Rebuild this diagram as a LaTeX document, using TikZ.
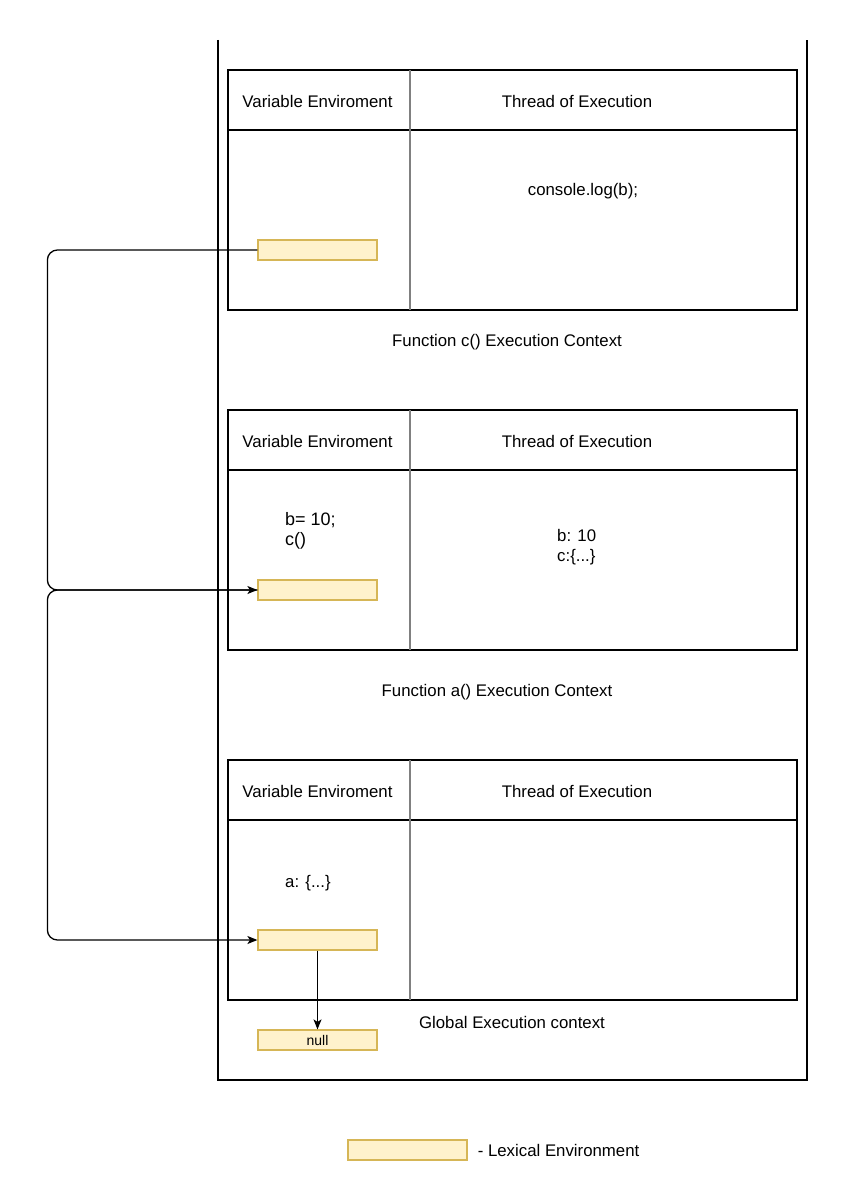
\documentclass[tikz,border=0pt]{standalone}
\usepackage{fontspec}
\setmainfont{Liberation Sans}
\usetikzlibrary{positioning,arrows.meta}

\definecolor{lexfill}{HTML}{FFF2CC}
\definecolor{lexdraw}{HTML}{D6B656}
\tikzset{
  frame/.style={black,line width=1.3pt},
  divider/.style={gray,line width=1.5pt},
  lexenv/.style={draw=lexdraw,fill=lexfill,line width=1.2pt,minimum width=119pt,minimum height=20pt,inner sep=0pt,font=\fontsize{14}{16}\selectfont},
  txt/.style={inner sep=0pt,font=\fontsize{16.8}{20}\selectfont},
  code/.style={inner sep=0pt,align=left,font=\fontsize{18}{20}\selectfont},
  link/.style={black,line width=1.3pt,rounded corners=10pt,-{Stealth[length=10pt,width=8pt,inset=2.5pt]}}
}

\begin{document}
\begin{tikzpicture}[x=1pt,y=-1pt]
  \useasboundingbox (0,0) rectangle (848,1201);
  % outer stack
  \draw[frame] (218,40) -- (218,1080) -- (807,1080) -- (807,40);
  % the three execution contexts
  \foreach \t/\n in {70/c,410/a,760/g} {
    \draw[frame] (228,\t) rectangle (797,\t+240);
    \draw[frame] (228,\t+60) -- (797,\t+60);
    \draw[divider] (410,\t) -- (410,\t+240);
    \node[txt] (ve\n) at (317.5,\t+31) {Variable Enviroment};
    \node[txt] (te\n) at (577,\t+31) {Thread of Execution};
  }
  % function c()
  \node[txt] (logc) at (583,191) {console.log(b);};
  \node[lexenv] (lexc) at (317.5,250) {};
  \node[txt] (titlec) at (507,342) {Function c() Execution Context};
  % function a()
  \node[code,anchor=west] (vara) at (285,531) {b= 10;\\c()};
  \node[txt,align=left,anchor=west] (runa) at (557,547) {b: 10\\c:\{...\}};
  \node[lexenv] (lexa) at (317.5,590) {};
  \node[txt] (titlea) at (497,692) {Function a() Execution Context};
  % global
  \node[txt,anchor=west] (varg) at (285,883) {a: \{...\}};
  \node[lexenv] (lexg) at (317.5,940) {};
  \node[txt] (titleg) at (512,1022) {Global Execution context};
  \node[lexenv] (null) at (317.5,1040) {null};
  % outer references
  \draw[link] (lexc.west) -- ++(-210,0) |- (lexa.west);
  \draw[link] (lexa.west) -- ++(-210,0) |- (lexg.west);
  \draw[link] (lexg.south) -- (null.north);
  % legend
  \node[lexenv] (legend) at (407.5,1150) {};
  \node[txt,right=10pt of legend] (legendtxt) {- Lexical Environment};
\end{tikzpicture}
\end{document}
